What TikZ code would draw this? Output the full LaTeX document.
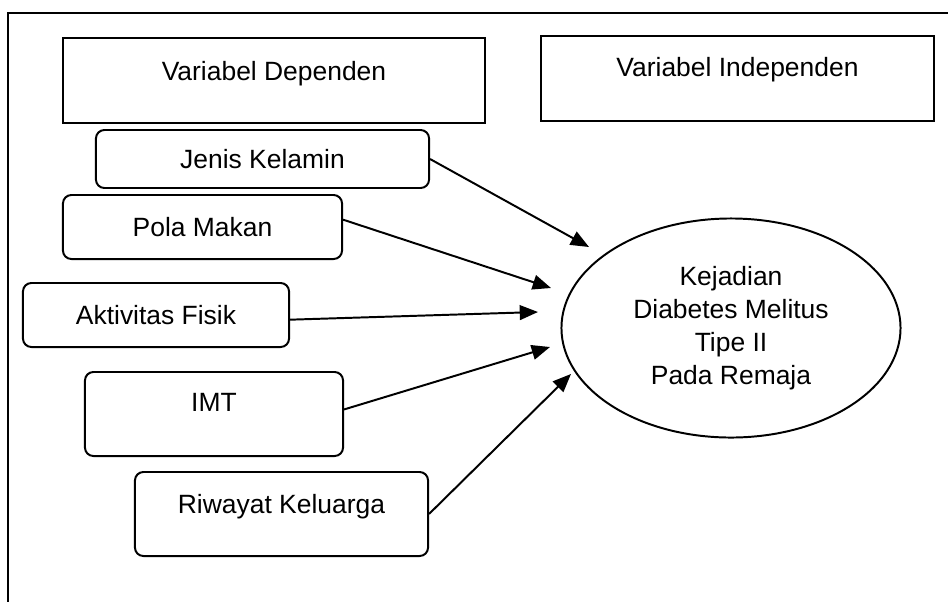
\documentclass[tikz,border=0pt]{standalone}
\usepackage{fontspec}
\setmainfont{Liberation Sans}
\usetikzlibrary{arrows.meta,shapes.geometric}

\begin{document}
\begin{tikzpicture}[x=0.025cm,y=-0.025cm,
  font=\fontsize{18.8}{23.5}\selectfont,
  box/.style={rectangle,draw,line width=1.4pt,inner sep=0pt,text height=13.5pt,text depth=0pt},
  rbox/.style={box,rounded corners=6pt},
  >={Triangle[length=13pt,width=10.5pt]}]
\useasboundingbox (0,0) rectangle (948,601);
\clip (0,0) rectangle (948,601);
%frame
\draw[line width=2.1pt] (8,620) -- (8,13) -- (960,13);
\path (274,80.5) node(dep) [box,minimum width=10.55cm,minimum height=2.125cm,text depth=13.5pt] {Variabel Dependen}
(737.5,78.5) node(indep) [box,minimum width=9.825cm,minimum height=2.125cm,text depth=16.4pt] {Variabel Independen}
(262.5,159) node(jk) [rbox,minimum width=8.325cm,minimum height=1.45cm] {Jenis Kelamin}
(202.5,227) node(pm) [rbox,minimum width=6.975cm,minimum height=1.6cm] {Pola Makan}
(156,315) node(af) [rbox,minimum width=6.65cm,minimum height=1.6cm] {Aktivitas Fisik}
(214,414) node(imt) [rbox,minimum width=6.45cm,minimum height=2.1cm,text depth=17pt] {IMT}
(281.5,514) node(rk) [rbox,minimum width=7.325cm,minimum height=2.1cm,text depth=14.2pt] {Riwayat Keluarga}
(731,328) node(kej) [ellipse,draw,line width=1.4pt,minimum width=8.475cm,minimum height=5.475cm,align=center] {Kejadian\\Diabetes Melitus\\Tipe II\\Pada Remaja};
\coordinate (t1) at (589,247);
\coordinate (t2) at (551,288);
\coordinate (t3) at (538,312);
\coordinate (t4) at (550,347);
\coordinate (t5) at (571,374);
\draw[line width=1.4pt,->] (jk.east) -- (t1);
\draw[line width=1.4pt,->] (pm.3) -- (t2);
\draw[line width=1.4pt,->] (af.-2) -- (t3);
\draw[line width=1.4pt,->] (imt.2) -- (t4);
\draw[line width=1.4pt,->] (rk.east) -- (t5);
\end{tikzpicture}
\end{document}
